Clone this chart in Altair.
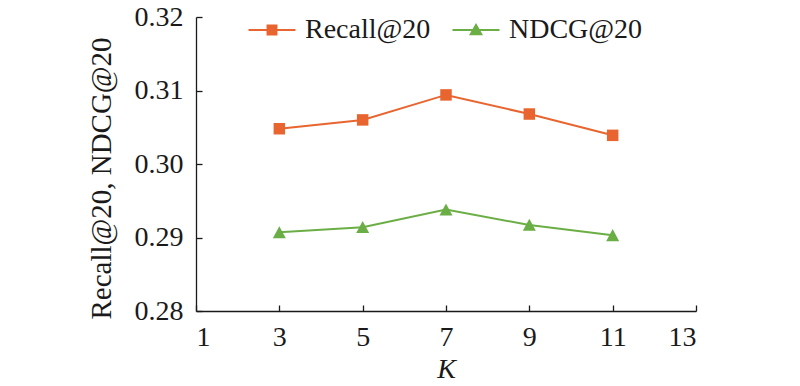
import altair as alt
import pandas as pd

# ---- data ----
K = [3, 5, 7, 9, 11]
recall = [0.3048, 0.3060, 0.3094, 0.3068, 0.3039]
ndcg = [0.2907, 0.2914, 0.2938, 0.2917, 0.2903]
series = ["Recall@20", "NDCG@20"]
colors = ["#E8652F", "#6BAE46"]
x_ticks = [1, 3, 5, 7, 9, 11, 13]
y_ticks = [0.28, 0.29, 0.30, 0.31, 0.32]

FONT = "Liberation Serif"
INK = "#1a1a1a"
W, H = 500, 294

rec_df = pd.DataFrame({"K": K, "value": recall, "series": series[0]})
nd_df = pd.DataFrame({"K": K, "value": ndcg, "series": series[1]})

xscale = alt.Scale(domain=[1, 13], nice=False, zero=False)
yscale = alt.Scale(domain=[0.28, 0.32], nice=False, zero=False)

main_x = alt.Axis(values=x_ticks, ticks=False, grid=False, labelPadding=12,
                  title="K", titleFontStyle="italic", titlePadding=4)
main_y = alt.Axis(values=y_ticks, format=".2f", ticks=False, grid=False,
                  labelPadding=13, title="Recall@20, NDCG@20", titlePadding=18,
                  titleFontSize=29, titleY=161)
tick_x = alt.Axis(orient="top", offset=-H, values=x_ticks, labels=False,
                  domain=False, ticks=True, tickSize=6, grid=False, title=None)
tick_y = alt.Axis(orient="right", offset=-W, values=y_ticks, labels=False,
                  domain=False, ticks=True, tickSize=6, grid=False, title=None)


def line_layer(df, color, xaxis, yaxis):
    return alt.Chart(df).mark_line(color=color, strokeWidth=2).encode(
        x=alt.X("K:Q", scale=xscale, axis=xaxis),
        y=alt.Y("value:Q", scale=yscale, axis=yaxis),
    )


def point_layer(df, name, color, point_path, point_size, legend_path, lx):
    return alt.Chart(df).mark_point(filled=True, opacity=1, shape=point_path, size=point_size).encode(
        x=alt.X("K:Q", scale=xscale, axis=None),
        y=alt.Y("value:Q", scale=yscale, axis=None),
        color=alt.Color(
            "series:N",
            scale=alt.Scale(domain=[name], range=[color]),
            legend=alt.Legend(
                title=None, orient="none", legendX=lx, legendY=-1,
                direction="horizontal", padding=0,
                symbolType=legend_path, symbolSize=552,
                symbolStrokeColor=color, symbolFillColor=color,
                symbolStrokeWidth=2, symbolOpacity=1,
                labelFont=FONT, labelFontSize=28, labelColor=INK,
                labelOffset=19,
            ),
        ),
    )


rec_line = line_layer(rec_df, colors[0], main_x, main_y)
nd_line = line_layer(nd_df, colors[1], tick_x, tick_y)
rec_pts = point_layer(rec_df, series[0], colors[0], "M-1,-1H1V1H-1Z", 132,
                      "M-2,0H2M-0.38,-0.38H0.38V0.38H-0.38Z", 62)
nd_pts = point_layer(nd_df, series[1], colors[1], "M0,-0.95L1,0.9L-1,0.9Z", 169,
                     "M-2,0H2M0,-0.42L0.45,0.36L-0.45,0.36Z", 266)

chart = (
    alt.layer(rec_line, nd_line, rec_pts, nd_pts)
    .resolve_scale(color="independent")
    .resolve_axis(x="independent", y="independent")
    .properties(
        width=W, height=H,
        padding={"left": 188, "top": 9, "right": 96, "bottom": 75},
        autosize=alt.AutoSizeParams(type="none"),
    )
    .configure_view(strokeWidth=0)
    .configure_axis(
        domainColor=INK, domainWidth=1.3, tickColor=INK, tickWidth=1.3,
        labelFont=FONT, labelFontSize=28, labelColor=INK,
        titleFont=FONT, titleFontSize=28, titleColor=INK, titleFontWeight="normal",
    )
)

chart.save("out.html", embed_options={"renderer": "svg", "actions": False})
